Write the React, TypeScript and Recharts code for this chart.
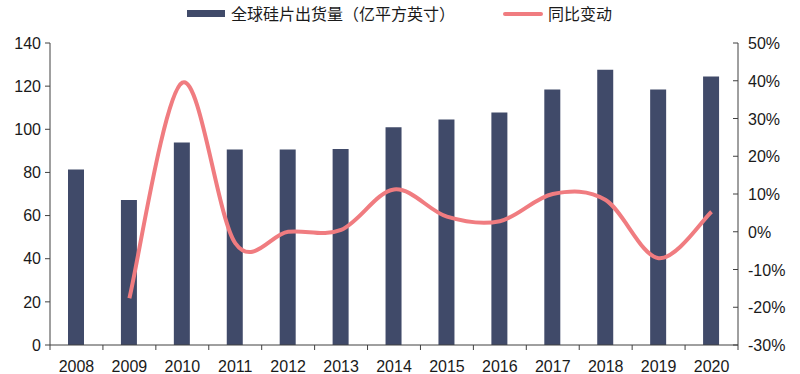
import React from 'react';
import { ComposedChart, Bar, Line, XAxis, YAxis } from 'recharts';

const years = ['2008', '2009', '2010', '2011', '2012', '2013', '2014', '2015', '2016', '2017', '2018', '2019', '2020'];
// 全球硅片出货量（亿平方英寸）
const shipments = [81.4, 67.2, 93.9, 90.6, 90.6, 90.9, 101, 104.5, 107.8, 118.4, 127.6, 118.4, 124.5];
// 同比变动 (%), 2008 has no value
const yoy = [null, -17.6, 39.5, -3.0, 0, 0.5, 11.2, 4.0, 2.8, 10.0, 8.4, -7.0, 5.3];
const leftTicks = [0, 20, 40, 60, 80, 100, 120, 140];
const rightTicks = [-30, -20, -10, 0, 10, 20, 30, 40, 50];

const data = years.map((year, i) => ({ year, shipments: shipments[i], yoy: yoy[i] }));

const BAR_COLOR = '#404a69';
const LINE_COLOR = '#f07c80';
const AXIS_COLOR = '#404040';
const FONT = '"Liberation Sans", Arial, "Noto Sans CJK SC", sans-serif';

// smooth curve like Excel's "smoothed line" (Catmull-Rom style bezier)
const smoothCurve = (ctx: any) => {
  let pts: number[][] = [];
  const k = 1 / 6;
  return {
    areaStart() {},
    areaEnd() {},
    lineStart() {
      pts = [];
    },
    point(x: number, y: number) {
      pts.push([+x, +y]);
    },
    lineEnd() {
      if (!pts.length) return;
      ctx.moveTo(pts[0][0], pts[0][1]);
      for (let i = 0; i < pts.length - 1; i++) {
        const p0 = pts[i - 1] || pts[i];
        const p1 = pts[i];
        const p2 = pts[i + 1];
        const p3 = pts[i + 2] || p2;
        ctx.bezierCurveTo(
          p1[0] + (p2[0] - p0[0]) * k,
          p1[1] + (p2[1] - p0[1]) * k,
          p2[0] - (p3[0] - p1[0]) * k,
          p2[1] - (p3[1] - p1[1]) * k,
          p2[0],
          p2[1]
        );
      }
    },
  };
};

const XTick = ({ x, y, payload, index }: any) => {
  const half = payload.offset ?? 26.45;
  return (
    <g>
      <line x1={x - half} y1={y} x2={x - half} y2={y + 5} stroke={AXIS_COLOR} />
      {index === years.length - 1 && <line x1={x + half} y1={y} x2={x + half} y2={y + 5} stroke={AXIS_COLOR} />}
      <text x={x} y={y + 27} textAnchor="middle" fontSize={16} fill="#1a1a1a" fontFamily={FONT}>
        {payload.value}
      </text>
    </g>
  );
};

const RightTick = ({ x, y, payload }: any) => (
  <g>
    <line x1={x - 10} y1={y} x2={x - 15} y2={y} stroke={AXIS_COLOR} />
    <text x={x} y={y} dy={6} textAnchor="start" fontSize={16} fill="#1a1a1a" fontFamily={FONT}>
      {payload.value + '%'}
    </text>
  </g>
);

const LegendBox = () => (
  <div
    style={{
      position: 'absolute',
      left: 0,
      top: 0,
      width: 800,
      height: 30,
      fontFamily: FONT,
      fontSize: 16,
      color: '#1a1a1a',
    }}
  >
    <div style={{ position: 'absolute', left: 187, top: 10, width: 38, height: 7, background: BAR_COLOR }} />
    <div style={{ position: 'absolute', left: 231, top: 4, lineHeight: '22px', whiteSpace: 'nowrap' }}>
      全球硅片出货量（亿平方英寸）
    </div>
    <div style={{ position: 'absolute', left: 503, top: 12, width: 40, height: 4, borderRadius: 2, background: LINE_COLOR }} />
    <div style={{ position: 'absolute', left: 548, top: 4, lineHeight: '22px', whiteSpace: 'nowrap' }}>同比变动</div>
  </div>
);

export default function App() {
  return (
    <div style={{ position: 'absolute', left: 0, top: 0, width: 800, height: 374, background: '#fff' }}>
      <LegendBox />
      <ComposedChart width={800} height={374} data={data} margin={{ top: 43, right: 0, bottom: 0, left: 0 }}>
        <XAxis
          dataKey="year"
          height={29}
          stroke={AXIS_COLOR}
          tickLine={false}
          tickSize={0}
          tickMargin={0}
          tick={<XTick />}
          interval={0}
        />
        <YAxis
          yAxisId="left"
          orientation="left"
          width={50}
          domain={[0, 140]}
          ticks={leftTicks}
          stroke={AXIS_COLOR}
          tickSize={5}
          tickMargin={4}
          tick={{ fill: '#1a1a1a', fontSize: 16, fontFamily: FONT }}
          interval={0}
        />
        <YAxis
          yAxisId="right"
          orientation="right"
          width={62}
          domain={[-30, 50]}
          ticks={rightTicks}
          stroke={AXIS_COLOR}
          tickLine={false}
          tickSize={0}
          tickMargin={10}
          tick={<RightTick />}
          interval={0}
        />
        <Bar yAxisId="left" dataKey="shipments" fill={BAR_COLOR} barSize={16} isAnimationActive={false} />
        <Line
          yAxisId="right"
          dataKey="yoy"
          type={smoothCurve as any}
          stroke={LINE_COLOR}
          strokeWidth={4}
          dot={false}
          activeDot={false}
          isAnimationActive={false}
        />
      </ComposedChart>
    </div>
  );
}
